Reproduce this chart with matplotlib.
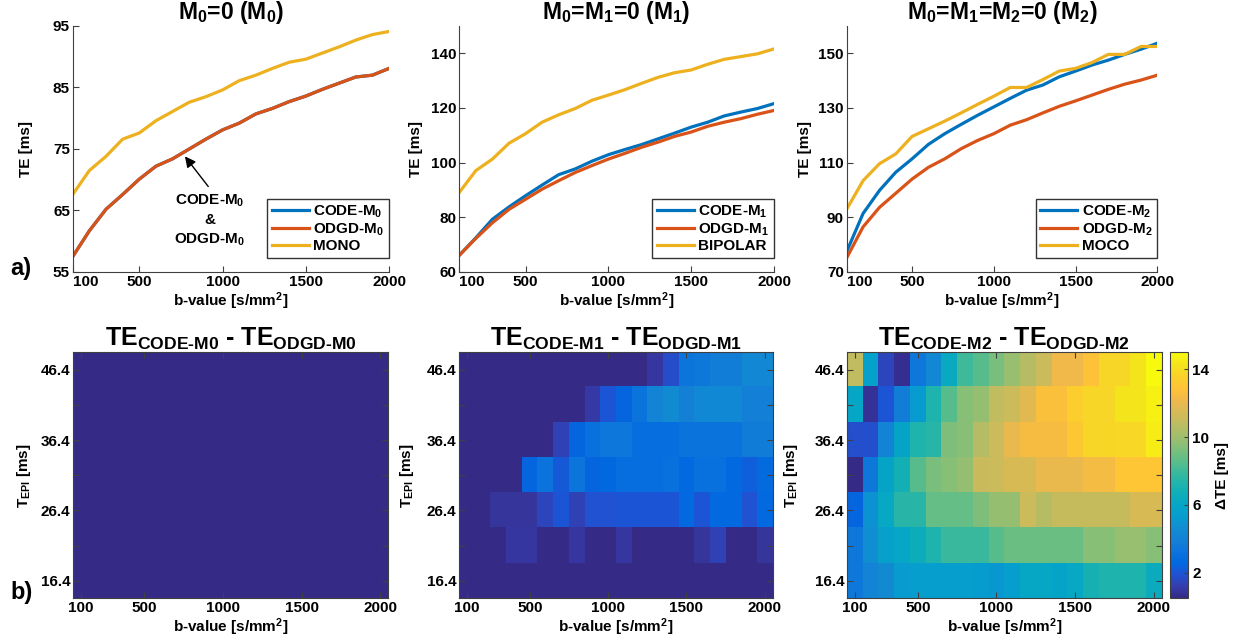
import numpy as np
import matplotlib
matplotlib.use("Agg")
import matplotlib.pyplot as plt
from matplotlib.colors import LinearSegmentedColormap

plt.rcParams.update({
    "font.family": ["Liberation Sans", "DejaVu Sans"],
    "font.weight": "bold",
    "axes.labelweight": "bold",
    "axes.titleweight": "bold",
    "mathtext.fontset": "custom",
    "mathtext.rm": "Liberation Sans:bold",
    "mathtext.it": "Liberation Sans:bold",
    "mathtext.bf": "Liberation Sans:bold",
    "mathtext.sf": "Liberation Sans:bold",
    "mathtext.default": "rm",
})

# ---- data ----
b_values = [100, 200, 300, 400, 500, 600, 700, 800, 900, 1000,
            1100, 1200, 1300, 1400, 1500, 1600, 1700, 1800, 1900, 2000]

te_code_m0 = [57.5, 61.7, 65.2, 67.6, 70.1, 72.2, 73.4, 75.0, 76.6, 78.1,
              79.2, 80.7, 81.6, 82.7, 83.6, 84.7, 85.7, 86.7, 87.0, 88.1]
te_odgd_m0 = [57.5, 61.7, 65.2, 67.6, 70.1, 72.2, 73.4, 75.0, 76.6, 78.1,
              79.2, 80.7, 81.6, 82.7, 83.6, 84.7, 85.7, 86.7, 87.0, 88.1]
te_mono = [67.6, 71.5, 73.8, 76.6, 77.6, 79.6, 81.1, 82.6, 83.5, 84.6,
           86.1, 87.0, 88.1, 89.1, 89.6, 90.6, 91.6, 92.7, 93.6, 94.1]

te_code_m1 = [66.1, 72.5, 79.3, 83.8, 87.9, 91.8, 95.6, 97.7, 100.5, 102.9,
              104.8, 106.6, 108.7, 110.8, 113.0, 114.8, 117.1, 118.5, 119.8, 121.6]
te_odgd_m1 = [66.1, 72.3, 78.0, 82.9, 86.6, 90.3, 93.4, 96.4, 98.9, 101.3,
              103.4, 105.6, 107.5, 109.6, 111.2, 113.3, 114.8, 116.1, 117.7, 119.1]
te_bipolar = [89.1, 97.1, 101.3, 107.1, 110.6, 114.8, 117.5, 119.8, 122.8, 124.7,
              126.7, 129.0, 131.2, 132.9, 133.9, 136.0, 137.8, 138.8, 139.8, 141.6]

te_code_m2 = [77.5, 91.4, 99.8, 106.5, 111.4, 116.7, 120.6, 124.0, 127.3, 130.4,
              133.5, 136.5, 138.4, 141.4, 143.5, 145.7, 147.5, 149.6, 151.5, 153.7]
te_odgd_m2 = [75.2, 86.5, 93.6, 98.8, 104.0, 108.3, 111.4, 115.1, 118.1, 120.6,
              123.7, 125.7, 128.2, 130.6, 132.6, 134.7, 136.8, 138.7, 140.2, 142.0]
te_moco = [93.0, 103.4, 109.6, 113.2, 119.6, 122.4, 125.2, 128.2, 131.3, 134.3,
           137.5, 137.5, 140.4, 143.5, 144.5, 146.6, 149.6, 149.6, 152.5, 152.5]

te_epi = [16.4, 21.4, 26.4, 31.4, 36.4, 41.4, 46.4]
te_epi_labels = ["16.4", "", "26.4", "", "36.4", "", "46.4"]

# delta TE maps, rows follow te_epi (bottom to top), columns follow b_values
dte_m0 = [[0.0] * 20 for _ in te_epi]
dte_m1 = [
    [0, 0, 0, 0, 0, 0, 0, 0, 0, 0, 0, 0, 0, 0, 0, 0, 0, 0, 0, 0],
    [0, 0, 0, 1.0, 1.0, 0, 0, 1.0, 0, 0, 1.0, 0, 0, 0, 0, 0.9, 1.4, 0, 0, 0.9],
    [0, 0, 0.9, 0.9, 0.9, 1.5, 2.0, 1.4, 1.9, 1.9, 2.0, 2.0, 2.0, 2.0, 2.7, 2.0, 2.7, 2.7, 1.9, 2.7],
    [0, 0, 0, 0, 2.5, 3.2, 2.1, 3.3, 2.5, 2.6, 2.9, 2.9, 2.9, 3.1, 2.7, 3.1, 3.1, 2.7, 2.3, 2.8],
    [0, 0, 0, 0, 0, 0, 1.4, 2.5, 3.1, 3.4, 3.4, 2.9, 2.9, 2.9, 3.2, 3.2, 3.2, 3.2, 3.7, 3.7],
    [0, 0, 0, 0, 0, 0, 0, 0, 1.1, 2.0, 2.5, 3.2, 4.1, 4.5, 4.0, 4.4, 4.4, 4.4, 3.9, 3.9],
    [0, 0, 0, 0, 0, 0, 0, 0, 0, 0, 0, 0, 1.0, 1.7, 3.3, 3.5, 3.8, 3.8, 4.3, 4.3],
]
dte_m2 = [
    [3.5, 4.1, 4.5, 5.3, 5.5, 5.5, 5.5, 5.5, 5.4, 5.1, 5.5, 6.1, 6.1, 5.8, 6.2, 7.0, 7.2, 7.2, 7.2, 6.5],
    [3.5, 4.7, 5.6, 6.0, 6.6, 7.2, 7.9, 7.9, 7.9, 8.5, 8.9, 8.9, 8.9, 8.9, 8.9, 9.5, 9.5, 9.9, 9.9, 9.5],
    [2.5, 4.9, 6.2, 7.5, 7.5, 8.8, 8.8, 8.8, 9.3, 9.8, 9.8, 11.2, 10.6, 11.0, 11.0, 11.0, 11.0, 11.0, 11.5, 11.5],
    [0.5, 3.5, 5.9, 6.9, 8.5, 9.2, 9.5, 9.8, 11.1, 11.2, 11.5, 11.5, 12.0, 12.0, 12.0, 12.4, 12.4, 13.0, 13.0, 13.0],
    [1.8, 1.8, 4.1, 5.9, 7.2, 7.5, 9.3, 9.5, 10.6, 11.2, 12.0, 12.5, 12.5, 12.5, 13.1, 13.7, 13.7, 13.8, 13.8, 14.6],
    [6.0, 0.8, 2.0, 3.8, 5.3, 7.2, 8.5, 9.5, 9.8, 10.9, 11.2, 11.8, 12.7, 12.7, 13.4, 13.7, 13.7, 14.3, 14.3, 14.7],
    [10.9, 5.7, 1.5, 0.7, 3.4, 4.3, 6.3, 8.0, 8.5, 9.2, 9.9, 10.6, 11.2, 12.2, 12.2, 12.9, 13.7, 13.7, 14.3, 15.0],
]
dte_min, dte_max = 0.5, 15.0
cbar_ticks = [2, 6, 10, 14]

# MATLAB parula (sampled)
parula = LinearSegmentedColormap.from_list("parula", [
    [0.2081, 0.1663, 0.5292], [0.2081, 0.2386, 0.6771], [0.1253, 0.3242, 0.8303],
    [0.0060, 0.4086, 0.8828], [0.0498, 0.4586, 0.8641], [0.0779, 0.5040, 0.8384],
    [0.0641, 0.5570, 0.8240], [0.0265, 0.6137, 0.8135], [0.0228, 0.6535, 0.7768],
    [0.0590, 0.6838, 0.7254], [0.1453, 0.7098, 0.6646], [0.2586, 0.7317, 0.5954],
    [0.3953, 0.7459, 0.5244], [0.5300, 0.7491, 0.4661], [0.6473, 0.7456, 0.4188],
    [0.7525, 0.7384, 0.3768], [0.8507, 0.7299, 0.3360], [0.9450, 0.7261, 0.2886],
    [0.9990, 0.7653, 0.2164], [0.9789, 0.8271, 0.1633], [0.9589, 0.8949, 0.1132],
    [0.9763, 0.9831, 0.0538]], N=256)

BLUE = (0.0, 0.447, 0.741)
RED = (0.85, 0.325, 0.098)
YELLOW = (0.929, 0.694, 0.125)
AXCOL = "0.25"
FS = 11

fig = plt.figure(figsize=(12.43, 6.41), dpi=100)

top_pos = [(0.0585, 0.5757, 0.2545, 0.3838),
           (0.3695, 0.5757, 0.2532, 0.3838),
           (0.6812, 0.5757, 0.2499, 0.3838)]
bot_pos = [(0.0590, 0.0666, 0.2534, 0.3838),
           (0.3695, 0.0666, 0.2521, 0.3838),
           (0.6814, 0.0666, 0.2532, 0.3838)]

line_sets = [
    ("M$_0$=0 (M$_0$)", te_code_m0, te_odgd_m0, te_mono,
     ["CODE-M$_0$", "ODGD-M$_0$", "MONO"], (55, 95), [55, 65, 75, 85, 95], -0.1255),
    ("M$_0$=M$_1$=0 (M$_1$)", te_code_m1, te_odgd_m1, te_bipolar,
     ["CODE-M$_1$", "ODGD-M$_1$", "BIPOLAR"], (60, 150), [60, 80, 100, 120, 140], -0.115),
    ("M$_0$=M$_1$=M$_2$=0 (M$_2$)", te_code_m2, te_odgd_m2, te_moco,
     ["CODE-M$_2$", "ODGD-M$_2$", "MOCO"], (70, 160), [70, 90, 110, 130, 150], -0.112),
]

for pos, (title, code, odgd, ref, labels, ylim, yticks, ylx) in zip(top_pos, line_sets):
    ax = fig.add_axes(pos)
    ax.plot(b_values, code, color=BLUE, lw=2.3, label=labels[0])
    ax.plot(b_values, odgd, color=RED, lw=2.3, label=labels[1])
    ax.plot(b_values, ref, color=YELLOW, lw=2.3, label=labels[2])
    ax.set_xlim(100, 2000)
    ax.set_ylim(*ylim)
    ax.set_xticks([100, 500, 1000, 1500, 2000])
    ax.set_yticks(yticks)
    for s in ["top", "right"]:
        ax.spines[s].set_visible(False)
    for s in ["left", "bottom"]:
        ax.spines[s].set_color(AXCOL)
    ax.tick_params(direction="in", length=4, color=AXCOL, labelsize=FS, pad=2)
    ax.get_xticklabels()[0].set_ha("left")
    ax.set_title(title, fontsize=16.5, pad=0)
    ax.set_xlabel("b-value [s/mm$^2$]", fontsize=FS, labelpad=1)
    ax.set_ylabel("TE [ms]", fontsize=FS)
    ax.yaxis.set_label_coords(ylx, 0.5)
    leg = ax.legend(loc="lower right", bbox_to_anchor=(1.0, 0.057), borderaxespad=0,
                    fontsize=FS, handlelength=2.4, labelspacing=0.1, handletextpad=0.3,
                    borderpad=0.3, fancybox=False, framealpha=1)
    leg.get_frame().set_edgecolor("0.2")
    leg.get_frame().set_linewidth(1.0)
    if ref is te_mono:
        ax.annotate("", xy=(774, 73.8), xytext=(914, 68.9),
                    arrowprops=dict(arrowstyle="-|>", color="black", lw=1.0,
                                    mutation_scale=16, shrinkA=0, shrinkB=0))
        ax.text(924, 63.4, "CODE-M$_0$\n&\nODGD-M$_0$", ha="center", va="center",
                multialignment="center", fontsize=FS, linespacing=1.35)

fig.text(0.017, 1 - 268 / 641, "a)", fontsize=17, fontweight="bold", va="center", ha="center")
fig.text(0.017, 1 - 593 / 641, "b)", fontsize=17, fontweight="bold", va="center", ha="center")

maps = [("TE$_{\\text{CODE-M0}}$ - TE$_{\\text{ODGD-M0}}$", dte_m0, -0.128),
        ("TE$_{\\text{CODE-M1}}$ - TE$_{\\text{ODGD-M1}}$", dte_m1, -0.138),
        ("TE$_{\\text{CODE-M2}}$ - TE$_{\\text{ODGD-M2}}$", dte_m2, -0.149)]

db = b_values[1] - b_values[0]
dt = te_epi[1] - te_epi[0]
extent = [b_values[0] - db / 2, b_values[-1] + db / 2, te_epi[0] - dt / 2, te_epi[-1] + dt / 2]

for pos, (title, data, ylx) in zip(bot_pos, maps):
    ax = fig.add_axes(pos)
    im = ax.imshow(np.array(data), cmap=parula, vmin=dte_min, vmax=dte_max,
                   origin="lower", extent=extent, aspect="auto", interpolation="nearest")
    ax.set_xticks([100, 500, 1000, 1500, 2000])
    ax.set_yticks(te_epi)
    ax.set_yticklabels(te_epi_labels)
    ax.tick_params(direction="in", length=4, color=AXCOL, labelsize=FS, pad=2,
                   top=True, right=True)
    for s in ax.spines.values():
        s.set_color(AXCOL)
    ax.set_title(title, fontsize=18, pad=5)
    ax.set_xlabel("b-value [s/mm$^2$]", fontsize=FS, labelpad=1)
    ax.set_ylabel("T$_{\\text{EPI}}$ [ms]", fontsize=FS)
    ax.yaxis.set_label_coords(ylx, 0.5)

cax = fig.add_axes((0.9413, 0.0666, 0.0147, 0.3838))
cb = fig.colorbar(im, cax=cax, ticks=cbar_ticks)
cb.outline.set_edgecolor(AXCOL)
cax.tick_params(direction="in", length=3, color=AXCOL, labelsize=FS, pad=3)
cb.set_label("\u0394TE [ms]", fontsize=FS, labelpad=4)

fig.savefig("out.png", dpi=100)
